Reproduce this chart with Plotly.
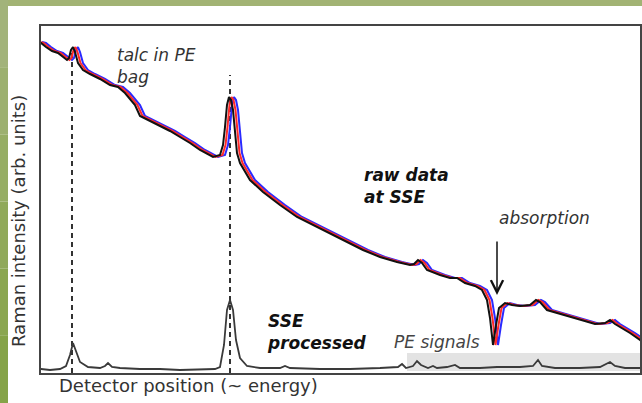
import plotly.graph_objects as go

# Detector channel (arb.) and Raman intensity (arb. units)
raw_channel = [-4, 0, 5, 11, 17, 22, 26, 28, 30, 32, 34, 37, 42, 49, 59, 69, 77, 84, 94, 99,
               109, 119, 129, 139, 149, 159, 172, 179, 182, 184, 186, 188, 190, 192, 194, 196,
               199, 204, 209, 222, 239, 256, 272, 289, 306, 322, 339, 356, 369, 373, 377, 381,
               386, 399, 409, 416, 424, 434, 441, 446, 449, 452, 455, 458, 464, 471, 479, 489,
               495, 499, 506, 519, 529, 539, 554, 564, 569, 574, 581, 589, 599, 604]
raw_intensity = [331, 330, 326, 322, 320, 316, 313, 315, 323, 326, 321, 310, 303, 299, 294, 288,
                 286, 280, 268, 257, 252, 247, 242, 236, 230, 223, 216, 218, 228, 246, 268, 276,
                 273, 263, 238, 220, 210, 201, 193, 181, 168, 156, 148, 140, 131, 123, 116, 111,
                 108, 109, 113, 110, 103, 98, 95, 95, 90, 87, 83, 73, 55, 28, 48, 65, 70, 68,
                 67, 68, 73, 71, 63, 59, 56, 53, 49, 50, 53, 49, 45, 40, 33, 29]
# the repeated measurements appear shifted along the detector axis
red_shift = 2.5
blue_shift = 5

proc_channel = [-4, 0, 9, 19, 25, 29, 32, 35, 39, 47, 59, 64, 67, 71, 79, 99, 119, 139, 159, 174,
                179, 183, 186, 189, 192, 195, 199, 206, 219, 239, 244, 249, 279, 309, 339, 357,
                361, 365, 372, 376, 380, 387, 392, 396, 406, 414, 419, 439, 456, 479, 492, 497,
                501, 514, 539, 559, 569, 574, 584, 599]
proc_intensity = [4, 4, 3, 4, 7, 18, 30, 21, 11, 6, 5, 7, 10, 6, 5, 4, 4, 3, 4, 4,
                  6, 28, 63, 73, 63, 33, 15, 7, 5, 5, 7, 5, 4, 4, 5, 6,
                  9, 5, 7, 12, 8, 5, 7, 5, 6, 8, 5, 5, 6, 6, 7, 13,
                  7, 5, 5, 6, 11, 7, 5, 5]

talc_peaks = [31, 189]
talc_tops = [322, 298]
pe_region = [366, 599]
pe_region_height = [2, 20]

FONT = "DejaVu Sans"

fig = go.Figure()
fig.add_shape(type="rect", xref="x", yref="y", x0=pe_region[0], x1=pe_region[1],
              y0=pe_region_height[0], y1=pe_region_height[1],
              fillcolor="#e3e3e3", line_width=0, layer="below")

for pk, top in zip(talc_peaks, talc_tops):
    fig.add_trace(go.Scatter(x=[pk, pk], y=[0, top], mode="lines",
                             line=dict(color="black", width=1.6, dash="5px,4px"),
                             hoverinfo="skip", showlegend=False))

fig.add_trace(go.Scatter(x=[c + blue_shift for c in raw_channel], y=raw_intensity, mode="lines",
                         line=dict(color="#2a2aff", width=2), showlegend=False))
fig.add_trace(go.Scatter(x=[c + red_shift for c in raw_channel], y=raw_intensity, mode="lines",
                         line=dict(color="#ff2a2a", width=2), showlegend=False))
fig.add_trace(go.Scatter(x=raw_channel, y=raw_intensity, mode="lines",
                         line=dict(color="#111111", width=2), showlegend=False))
fig.add_trace(go.Scatter(x=proc_channel, y=proc_intensity, mode="lines",
                         line=dict(color="#3a3a3a", width=1.8), showlegend=False))

txt = "#333333"
ann = [
    dict(x=74, y=330, text="<i>talc in PE<br>bag</i>", xanchor="left", yanchor="top",
         align="left", font=dict(size=17, color=txt)),
    dict(x=321, y=210, text="<b><i>raw data<br>at SSE</i></b>", xanchor="left", yanchor="top",
         align="left", font=dict(size=17, color="#111")),
    dict(x=456, y=155, text="<i>absorption</i>", xanchor="left", yanchor="middle",
         font=dict(size=17, color=txt)),
    dict(x=224, y=64, text="<b><i>SSE<br>processed</i></b>", xanchor="left", yanchor="top",
         align="left", font=dict(size=17, color="#111")),
    dict(x=351, y=31, text="<i>PE signals</i>", xanchor="left", yanchor="middle",
         font=dict(size=17, color="#444")),
]
for a in ann:
    fig.add_annotation(xref="x", yref="y", showarrow=False, **a)

fig.add_annotation(xref="x", yref="y", axref="x", ayref="y", x=456, y=78, ax=456, ay=133,
                   showarrow=True, arrowhead=5, arrowsize=1.6, arrowwidth=1.5, arrowcolor="#111",
                   text="")

fig.add_annotation(xref="paper", yref="paper", x=(57 - 41) / 599, y=(373 - 385) / 347,
                   text="Detector position (~ energy)", showarrow=False, xanchor="left",
                   yanchor="middle", font=dict(size=18, color=txt))
fig.add_annotation(xref="paper", yref="paper", x=(18 - 41) / 599, y=(373 - 221) / 347,
                   text="Raman intensity (arb. units)", showarrow=False, textangle=-90,
                   xanchor="center", yanchor="middle", font=dict(size=18, color=txt))

# green frame strips of the slide background
def px2x(px):
    return (px - 41) / 599

def py2y(py):
    return (373 - py) / 347

fig.add_shape(type="rect", xref="paper", yref="paper", x0=px2x(0), x1=px2x(642),
              y0=py2y(6), y1=py2y(0), fillcolor="#a2b374", line_width=0, layer="above")
greens = ["#a2b37a", "#9cb06f", "#96ad64", "#90a95a", "#8aa650", "#85a348"]
n = len(greens)
for i, g in enumerate(greens):
    top = 403 * i / n
    bot = 403 * (i + 1) / n
    fig.add_shape(type="rect", xref="paper", yref="paper", x0=px2x(0), x1=px2x(8),
                  y0=py2y(bot), y1=py2y(top), fillcolor=g, line_width=0, layer="above")

fig.update_layout(
    width=642, height=403,
    margin=dict(l=41, r=2, t=26, b=30, autoexpand=False),
    paper_bgcolor="white", plot_bgcolor="white",
    font=dict(family=FONT, color=txt),
    xaxis=dict(range=[0, 599], showticklabels=False, ticks="", showgrid=False, zeroline=False,
               showline=True, mirror=True, linecolor="#444", linewidth=2),
    yaxis=dict(range=[0, 347], showticklabels=False, ticks="", showgrid=False, zeroline=False,
               showline=True, mirror=True, linecolor="#444", linewidth=2),
)

fig.write_html("out.html", config={"displayModeBar": False},
               post_script="document.body.style.margin='0';document.body.style.overflow='hidden';")
